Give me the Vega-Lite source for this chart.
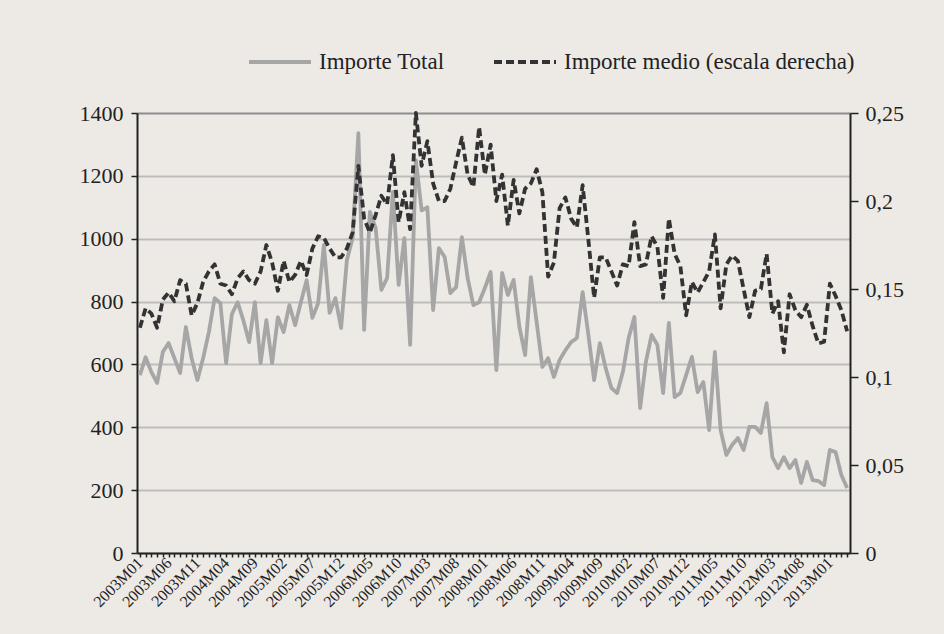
{
  "$schema": "https://vega.github.io/schema/vega-lite/v6.json",
  "width": 713,
  "height": 440,
  "autosize": {"type": "none"},
  "padding": {"left": 137, "top": 113, "right": 94, "bottom": 81},
  "background": "#edeae6",
  "config": {
    "font": "Liberation Serif",
    "view": {"stroke": null},
    "axis": {"labelFont": "Liberation Serif", "labelColor": "#222222", "domainColor": "#222222", "tickColor": "#222222", "domainWidth": 2, "tickWidth": 1.5, "title": null},
    "legend": {"orient": "none", "legendX": 110, "legendY": -84, "direction": "horizontal", "symbolType": "stroke", "symbolSize": 3844, "symbolStrokeWidth": 4, "labelFont": "Liberation Serif", "labelFontSize": 23, "labelColor": "#222222", "labelOffset": 6, "columnPadding": 41, "labelLimit": 400, "title": null}
  },
  "data": {"values": [
    {"m":"2003M01","total":566,"medio":0.128},{"m":"2003M02","total":623,"medio":0.139},{"m":"2003M03","total":576,"medio":0.136},{"m":"2003M04","total":541,"medio":0.128},{"m":"2003M05","total":640,"medio":0.144},{"m":"2003M06","total":668,"medio":0.148},{"m":"2003M07","total":620,"medio":0.143},{"m":"2003M08","total":573,"medio":0.155},{"m":"2003M09","total":719,"medio":0.153},{"m":"2003M10","total":620,"medio":0.135},{"m":"2003M11","total":550,"medio":0.142},{"m":"2003M12","total":620,"medio":0.154},
    {"m":"2004M01","total":703,"medio":0.160},{"m":"2004M02","total":811,"medio":0.164},{"m":"2004M03","total":795,"medio":0.153},{"m":"2004M04","total":604,"medio":0.152},{"m":"2004M05","total":760,"medio":0.147},{"m":"2004M06","total":798,"medio":0.156},{"m":"2004M07","total":740,"medio":0.160},{"m":"2004M08","total":671,"medio":0.155},{"m":"2004M09","total":798,"medio":0.153},{"m":"2004M10","total":604,"medio":0.160},{"m":"2004M11","total":741,"medio":0.175},{"m":"2004M12","total":604,"medio":0.165},
    {"m":"2005M01","total":750,"medio":0.149},{"m":"2005M02","total":703,"medio":0.166},{"m":"2005M03","total":789,"medio":0.154},{"m":"2005M04","total":725,"medio":0.158},{"m":"2005M05","total":798,"medio":0.166},{"m":"2005M06","total":868,"medio":0.158},{"m":"2005M07","total":748,"medio":0.173},{"m":"2005M08","total":795,"medio":0.180},{"m":"2005M09","total":980,"medio":0.179},{"m":"2005M10","total":764,"medio":0.173},{"m":"2005M11","total":811,"medio":0.168},{"m":"2005M12","total":716,"medio":0.168},
    {"m":"2006M01","total":932,"medio":0.173},{"m":"2006M02","total":1002,"medio":0.182},{"m":"2006M03","total":1336,"medio":0.220},{"m":"2006M04","total":710,"medio":0.190},{"m":"2006M05","total":1085,"medio":0.182},{"m":"2006M06","total":1034,"medio":0.192},{"m":"2006M07","total":837,"medio":0.203},{"m":"2006M08","total":875,"medio":0.198},{"m":"2006M09","total":1149,"medio":0.226},{"m":"2006M10","total":853,"medio":0.188},{"m":"2006M11","total":1002,"medio":0.205},{"m":"2006M12","total":662,"medio":0.184},
    {"m":"2007M01","total":1250,"medio":0.250},{"m":"2007M02","total":1090,"medio":0.220},{"m":"2007M03","total":1100,"medio":0.234},{"m":"2007M04","total":773,"medio":0.210},{"m":"2007M05","total":970,"medio":0.200},{"m":"2007M06","total":942,"medio":0.200},{"m":"2007M07","total":827,"medio":0.207},{"m":"2007M08","total":846,"medio":0.222},{"m":"2007M09","total":1005,"medio":0.236},{"m":"2007M10","total":875,"medio":0.215},{"m":"2007M11","total":789,"medio":0.208},{"m":"2007M12","total":798,"medio":0.242},
    {"m":"2008M01","total":843,"medio":0.215},{"m":"2008M02","total":894,"medio":0.232},{"m":"2008M03","total":582,"medio":0.200},{"m":"2008M04","total":891,"medio":0.215},{"m":"2008M05","total":821,"medio":0.186},{"m":"2008M06","total":869,"medio":0.212},{"m":"2008M07","total":720,"medio":0.193},{"m":"2008M08","total":630,"medio":0.207},{"m":"2008M09","total":878,"medio":0.210},{"m":"2008M10","total":735,"medio":0.218},{"m":"2008M11","total":592,"medio":0.205},{"m":"2008M12","total":620,"medio":0.157},
    {"m":"2009M01","total":560,"medio":0.165},{"m":"2009M02","total":614,"medio":0.196},{"m":"2009M03","total":645,"medio":0.202},{"m":"2009M04","total":671,"medio":0.190},{"m":"2009M05","total":684,"medio":0.185},{"m":"2009M06","total":830,"medio":0.209},{"m":"2009M07","total":694,"medio":0.178},{"m":"2009M08","total":550,"medio":0.145},{"m":"2009M09","total":668,"medio":0.168},{"m":"2009M10","total":589,"medio":0.168},{"m":"2009M11","total":525,"medio":0.160},{"m":"2009M12","total":509,"medio":0.152},
    {"m":"2010M01","total":576,"medio":0.164},{"m":"2010M02","total":684,"medio":0.163},{"m":"2010M03","total":751,"medio":0.188},{"m":"2010M04","total":461,"medio":0.163},{"m":"2010M05","total":608,"medio":0.164},{"m":"2010M06","total":694,"medio":0.180},{"m":"2010M07","total":662,"medio":0.174},{"m":"2010M08","total":509,"medio":0.145},{"m":"2010M09","total":732,"medio":0.190},{"m":"2010M10","total":496,"medio":0.170},{"m":"2010M11","total":509,"medio":0.163},{"m":"2010M12","total":566,"medio":0.135},
    {"m":"2011M01","total":624,"medio":0.154},{"m":"2011M02","total":512,"medio":0.148},{"m":"2011M03","total":544,"medio":0.154},{"m":"2011M04","total":391,"medio":0.160},{"m":"2011M05","total":640,"medio":0.181},{"m":"2011M06","total":391,"medio":0.139},{"m":"2011M07","total":312,"medio":0.164},{"m":"2011M08","total":344,"medio":0.169},{"m":"2011M09","total":366,"medio":0.166},{"m":"2011M10","total":328,"medio":0.150},{"m":"2011M11","total":401,"medio":0.134},{"m":"2011M12","total":401,"medio":0.149},
    {"m":"2012M01","total":382,"medio":0.150},{"m":"2012M02","total":477,"medio":0.170},{"m":"2012M03","total":305,"medio":0.136},{"m":"2012M04","total":270,"medio":0.143},{"m":"2012M05","total":305,"medio":0.114},{"m":"2012M06","total":270,"medio":0.147},{"m":"2012M07","total":296,"medio":0.138},{"m":"2012M08","total":223,"medio":0.134},{"m":"2012M09","total":290,"medio":0.141},{"m":"2012M10","total":232,"medio":0.129},{"m":"2012M11","total":229,"medio":0.119},{"m":"2012M12","total":216,"medio":0.120},
    {"m":"2013M01","total":328,"medio":0.153},{"m":"2013M02","total":321,"medio":0.146},{"m":"2013M03","total":248,"medio":0.138},{"m":"2013M04","total":207,"medio":0.126}
  ]},
  "transform": [{"fold": ["total", "medio"], "as": ["serie", "v"]}],
  "encoding": {
    "x": {"field": "m", "type": "ordinal", "sort": null, "scale": {"padding": 0.5},
      "axis": {"labelAngle": -45, "labelFontSize": 16, "labelAlign": "right", "labelBaseline": "middle", "labelOverlap": false, "labelPadding": 3, "tickSize": 4, "grid": false,
        "labelExpr": "((toNumber(slice(datum.value,0,4))-2003)*12 + toNumber(slice(datum.value,5,7)) - 1) % 5 == 0 ? datum.value : ''"}},
    "color": {"field": "serie", "type": "nominal", "scale": {"domain": ["total", "medio"], "range": ["#a6a6a6", "#333333"]},
      "legend": {"labelExpr": "datum.value == 'total' ? 'Importe Total' : 'Importe medio (escala derecha)'"}},
    "strokeDash": {"field": "serie", "type": "nominal", "scale": {"domain": ["total", "medio"], "range": [[1, 0], [8, 4]]},
      "legend": {"labelExpr": "datum.value == 'total' ? 'Importe Total' : 'Importe medio (escala derecha)'"}}
  },
  "layer": [
    {
      "transform": [{"filter": "datum.serie === 'total'"}],
      "mark": {"type": "line", "strokeWidth": 3.8, "strokeJoin": "round"},
      "encoding": {
        "y": {"field": "v", "type": "quantitative", "scale": {"domain": [0, 1400]},
          "axis": {"values": [0, 200, 400, 600, 800, 1000, 1200, 1400], "format": "d", "labelFontSize": 22, "tickSize": 6, "labelPadding": 8, "grid": true, "gridWidth": 2,
            "gridColor": {"condition": {"test": "datum.value === 1400", "value": "#8c8c8c"}, "value": "#bdbdbd"}}}
      }
    },
    {
      "transform": [{"filter": "datum.serie === 'medio'"}],
      "mark": {"type": "line", "strokeWidth": 3.8, "strokeJoin": "round"},
      "encoding": {
        "y": {"field": "v", "type": "quantitative", "scale": {"domain": [0, 0.25]},
          "axis": {"orient": "right", "values": [0, 0.05, 0.1, 0.15, 0.2, 0.25], "labelExpr": "replace(toString(datum.value), '.', ',')", "labelFontSize": 22, "tickSize": 8, "labelPadding": 7, "grid": false}}
      }
    }
  ],
  "resolve": {"scale": {"y": "independent"}}
}
